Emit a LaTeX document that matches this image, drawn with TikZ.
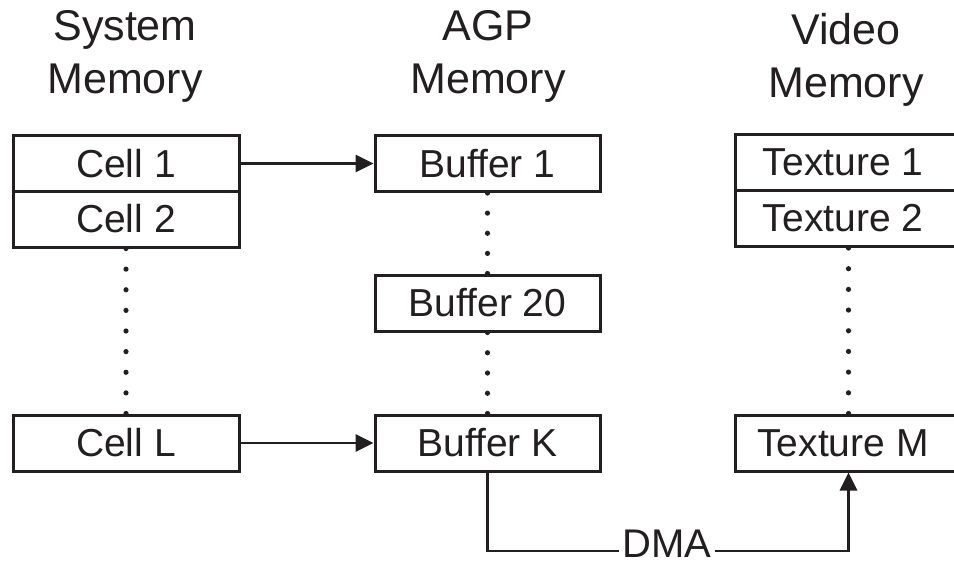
\documentclass[tikz,border=0pt]{standalone}
\usepackage{fontspec}
\setmainfont{Liberation Sans}
\usetikzlibrary{calc,arrows.meta}
\definecolor{ink}{HTML}{231F20}
\tikzset{
  membox/.style={draw=ink, line width=3pt, rectangle, minimum height=56pt, inner sep=0pt,
                 text=ink, font=\fontsize{39}{46}\selectfont},
  col1/.style={membox, minimum width=226pt},
  col2/.style={membox, minimum width=225pt},
  col3/.style={membox, minimum width=227pt},
  header/.style={anchor=north, align=center, inner sep=0pt, text=ink,
                 font=\fontsize{43}{53}\selectfont},
  link/.style={draw=ink, line width=2.8pt, -{Triangle[length=18pt,width=17pt]}},
  plain/.style={draw=ink, line width=2.8pt},
  dotfill/.style={fill=ink}
}
\newcommand{\dotrow}[3]{%
  \foreach \i in {0,...,#3} \fill[dotfill] ($(#1)!\i/#3!(#2)$) circle (2.6pt);}
\begin{document}
\begin{tikzpicture}[x=1pt,y=-1pt]
\useasboundingbox (0,0) rectangle (954,566);
\clip (0,0) rectangle (954,566);
\fill[white] (0,0) rectangle (954,566);

% headers
\node[header] (hsys) at (125,10) {System\\Memory};
\node[header] (hagp) at (488,10) {AGP\\Memory};
\node[header] (hvid) at (846,13) {Video\\Memory};

% system memory
\node[col1] (c1) at (126,163.5) {Cell 1};
\node[col1] (c2) at (126,219) {Cell 2};
\node[col1] (cl) at (126,443) {Cell L};

% AGP memory
\node[col2] (b1) at (487.5,163.5) {Buffer 1};
\node[col2] (b20) at (487.5,303) {Buffer 20};
\node[col2] (bk) at (487.5,443) {Buffer K};

% video memory (boxes run past the right edge)
\node[col3] (t1) at (848.5,162.5) {\hspace*{-11pt}Texture 1};
\node[col3] (t2) at (848.5,218.5) {\hspace*{-11pt}Texture 2};
\node[col3] (tm) at (848.5,443) {\hspace*{-11pt}Texture M};

% dotted continuations
\dotrow{c2.south}{cl.north}{8}
\dotrow{b1.south}{b20.north}{4}
\dotrow{b20.south}{bk.north}{4}
\dotrow{t2.south}{tm.north}{8}

% arrows
\draw[link] (c1.east) -- (b1.west);
\draw[link] (cl.east) -- (bk.west);

% DMA
\coordinate (dl) at (0,551);
\node[anchor=base, inner xsep=3pt, inner ysep=0pt, text=ink,
      font=\fontsize{40}{48}\selectfont] (dma) at (667,557) {DMA};
\draw[plain] (bk.south) |- (dma.west |- dl);
\draw[link] (dma.east |- dl) -| (tm.south);
\end{tikzpicture}
\end{document}
